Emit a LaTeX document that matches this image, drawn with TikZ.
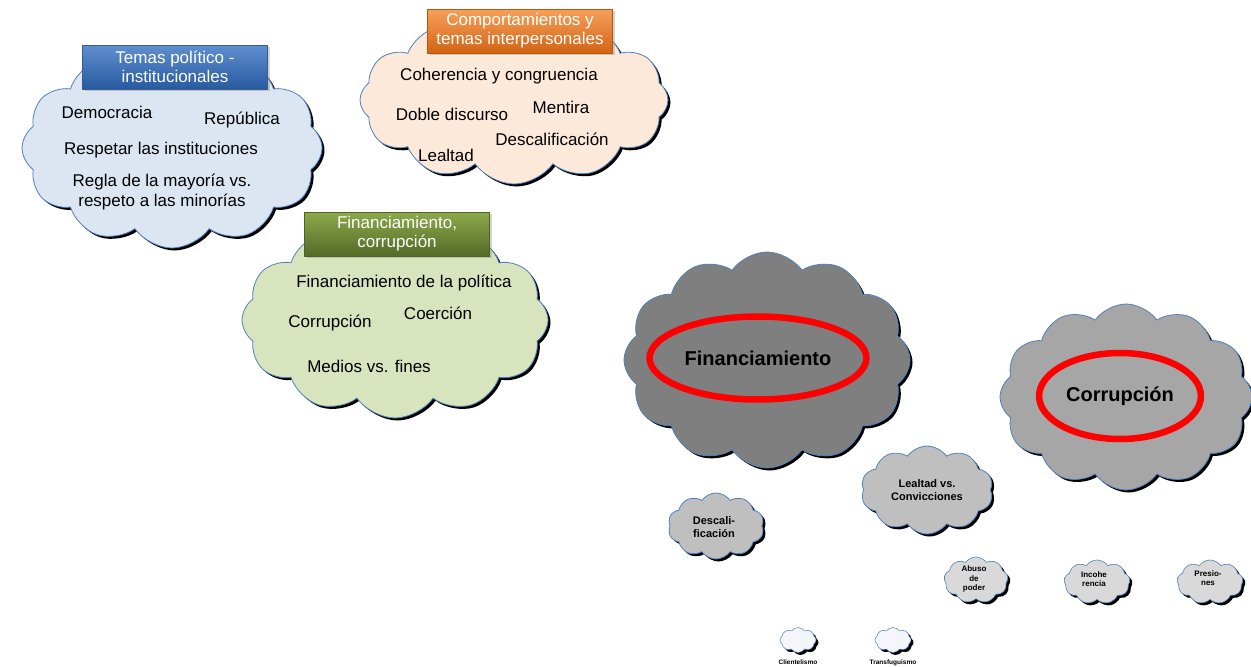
\documentclass[tikz,border=0pt]{standalone}
\usepackage{fontspec}
\setmainfont{Liberation Sans}
\usetikzlibrary{shapes.symbols,shapes.geometric,shadows}

\definecolor{puffline}{HTML}{4F81BD}
\definecolor{bluefill}{HTML}{DCE6F2}
\definecolor{orangefill}{HTML}{FDE9D9}
\definecolor{greenfill}{HTML}{D7E4BD}
\definecolor{darkfill}{HTML}{7F7F7F}
\definecolor{midfill}{HTML}{A6A6A6}
\definecolor{lightfill}{HTML}{BFBFBF}
\definecolor{palefill}{HTML}{D9D9D9}
\definecolor{whitefill}{HTML}{F4F6FA}
\definecolor{blueedge}{HTML}{385D8A}
\definecolor{orangeedge}{HTML}{B65708}
\definecolor{greenedge}{HTML}{4F6228}

\begin{document}
\begin{tikzpicture}[x=1pt, y=-1pt,
    puff/.style={cloud, cloud puffs=12, cloud puff arc=110, cloud ignores aspect,
        draw=puffline, line width=0.8pt, inner sep=0pt,
        drop shadow={shadow xshift=2.5pt, shadow yshift=-2.5pt, opacity=1, fill=black}},
    head/.style={rectangle, draw=#1, line width=0.5pt, minimum width=185, minimum height=44,
        align=center, text=white, font=\fontsize{17}{19}\selectfont,
        drop shadow={shadow xshift=2pt, shadow yshift=-2pt, opacity=0.35}},
    item/.style={font=\fontsize{17}{20}\selectfont, align=center},
    ring/.style={ellipse, draw=red, line width=6.5pt, font=\bfseries\fontsize{20}{24}\selectfont},
    small/.style={font=\bfseries\fontsize{11}{13.5}\selectfont, align=center},
    tiny/.style={font=\bfseries\fontsize{8}{9.5}\selectfont, align=center}]

    \useasboundingbox (0, 0) rectangle (1251, 667);

    % clouds
    \node (cpol) at (172, 148) [puff, fill=bluefill, minimum width=300, minimum height=200] {};
    \node (cper) at (514, 100) [puff, fill=orangefill, minimum width=308, minimum height=168] {};
    \node (cfin) at (395, 320) [puff, fill=greenfill, minimum width=306, minimum height=196] {};
    \node (bfin) at (767, 360) [puff, fill=darkfill, minimum width=286, minimum height=216] {};
    \node (bcor) at (1126, 397) [puff, fill=midfill, minimum width=252, minimum height=186] {};
    \node (slea) at (927, 490) [puff, fill=lightfill, cloud puffs=10, minimum width=132, minimum height=88] {};
    \node (sdes) at (716, 526) [puff, fill=lightfill, cloud puffs=10, minimum width=96, minimum height=66] {};
    \node (sabu) at (976, 580) [puff, fill=palefill, cloud puffs=9, minimum width=64, minimum height=46, line width=0.6pt] {};
    \node (sinc) at (1097, 582) [puff, fill=palefill, cloud puffs=9, minimum width=66, minimum height=44, line width=0.6pt] {};
    \node (spre) at (1210, 582) [puff, fill=palefill, cloud puffs=9, minimum width=66, minimum height=44, line width=0.6pt] {};
    \node (scli) at (798, 640) [puff, fill=whitefill, cloud puffs=8, minimum width=36, minimum height=25, line width=0.5pt] {};
    \node (stra) at (893, 640) [puff, fill=whitefill, cloud puffs=8, minimum width=36, minimum height=25, line width=0.5pt] {};

    % headers
    \node (hpol) at (175, 67) [head=blueedge, top color={rgb,255:red,95;green,143;blue,207}, bottom color={rgb,255:red,40;green,90;blue,160}] {Temas político -\\institucionales};
    \node (hper) at (520, 31) [head=orangeedge, top color={rgb,255:red,247;green,160;blue,90}, bottom color={rgb,255:red,210;green,100;blue,20}] {Comportamientos y\\temas interpersonales};
    \node (hfin) at (397, 234) [head=greenedge, top color={rgb,255:red,140;green,170;blue,75}, bottom color={rgb,255:red,85;green,105;blue,40}] {Financiamiento,\\corrupción};

    % temas politico-institucionales
    \node (tdem) at (107, 112) [item] {Democracia};
    \node (trep) at (242, 120) [item] {República};
    \node (tres) at (161, 150) [item] {Respetar las instituciones};
    \node (treg) at (162, 192) [item] {Regla de la mayoría vs.\\respeto a las minorías};

    % comportamientos
    \node (pcoh) at (499, 76) [item] {Coherencia y congruencia};
    \node (pdob) at (452, 114) [item] {Doble discurso};
    \node (pmen) at (561, 107) [item] {Mentira};
    \node (pdes) at (552, 139) [item] {Descalificación};
    \node (plea) at (446, 155) [item] {Lealtad};

    % financiamiento
    \node (ffin) at (404, 283) [item] {Financiamiento de la política};
    \node (fcoe) at (438, 313) [item] {Coerción};
    \node (fcor) at (330, 323) [item] {Corrupción};
    \node (fmed) at (369, 366) [item] {Medios vs. fines};

    % rings
    \node (rfin) at (758, 358) [ring, minimum width=186, minimum height=83] {Financiamiento};
    \node (rcor) at (1120, 396) [ring, minimum width=160, minimum height=86] {Corrupción};

    % small labels
    \node (llea) at (927, 490) [small] {Lealtad vs.\\Convicciones};
    \node (ldes) at (714, 527) [small] {Descali-\\ficación};
    \node (labu) at (974, 579) [tiny] {Abuso\\de\\poder};
    \node (linc) at (1094, 579) [tiny] {Incohe\\rencia};
    \node (lpre) at (1208, 578) [tiny] {Presio-\\nes};
    \node (lcli) at (798, 662) [font=\bfseries\fontsize{6.5}{7}\selectfont] {Clientelismo};
    \node (ltra) at (893, 663) [font=\bfseries\fontsize{6.5}{7}\selectfont] {Transfuguismo};
\end{tikzpicture}
\end{document}
